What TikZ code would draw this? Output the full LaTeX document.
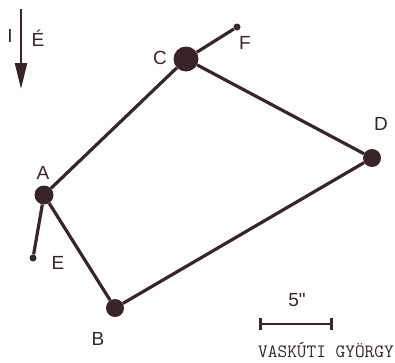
\documentclass[tikz,border=0pt]{standalone}
\usepackage{fontspec}
\setmainfont{Liberation Sans}
\newfontfamily\quotefont{Liberation Sans}[Ligatures=TeXOff]
\usepackage{tikz}
\usetikzlibrary{positioning, arrows.meta, calc}

\definecolor{ink}{RGB}{58,36,38}

\begin{document}
\begin{tikzpicture}[
            x=1pt, y=-1pt,
            star/.style={circle, fill=ink, draw=none, inner sep=0pt},
            edge/.style={line width=3.2pt, draw=ink},
            starlabel/.style={font=\fontsize{19}{19}\selectfont, text=ink, inner sep=0pt}
        ]
        \useasboundingbox (0,0) rectangle (395,362);

        % Sterne
        \node[star, minimum size=25pt] (c) at (186,59) {};
        \node[star, minimum size=7pt]  (f) at (237,27) {};
        \node[star, minimum size=18pt] (d) at (372,158) {};
        \node[star, minimum size=19pt] (a) at (44,195) {};
        \node[star, minimum size=7pt]  (e) at (33,258) {};
        \node[star, minimum size=18pt] (b) at (115,308) {};

        % Beschriftung
        \node[starlabel] (lc) at (160,58) {C};
        \node[starlabel] (lf) at (245,43) {F};
        \node[starlabel] (ld) at (381,124) {D};
        \node[starlabel] (la) at (43,173) {A};
        \node[starlabel] (le) at (58,263) {E};
        \node[starlabel] (lb) at (98,339) {B};

        % Kanten
        \draw[edge] (a) -- (c);
        \draw[edge] (c) -- (d);
        \draw[edge] (d) -- (b);
        \draw[edge] (b) -- (a);
        \draw[edge] (a) -- (e);
        \draw[edge] (c) -- (f);

        % Nordrichtung
        \coordinate (ntop) at (21,9);
        \coordinate (nbot) at (21,89);
        \draw[line width=2.3pt, draw=ink, -{Triangle[length=26pt, width=12pt]}] (ntop) -- (nbot);
        \node[starlabel] (ni) at (10,36) {I};
        \node[starlabel] (ne) at (38,38) {É};

        % Massstab
        \coordinate (s1) at (259,324);
        \coordinate (s2) at (333,324);
        \draw[line width=2.6pt, draw=ink, {Bar[width=12pt]}-{Bar[width=12pt]}] (s1) -- (s2);
        \node[starlabel, font=\quotefont\fontsize{19}{19}\selectfont] (sc) at (297,300) {5"};
        \node[font=\ttfamily\fontsize{18.8}{19}\selectfont, text=ink, inner sep=0pt] (name) at (326,350) {VASKÚTI GYÖRGY};
    \end{tikzpicture}
\end{document}
